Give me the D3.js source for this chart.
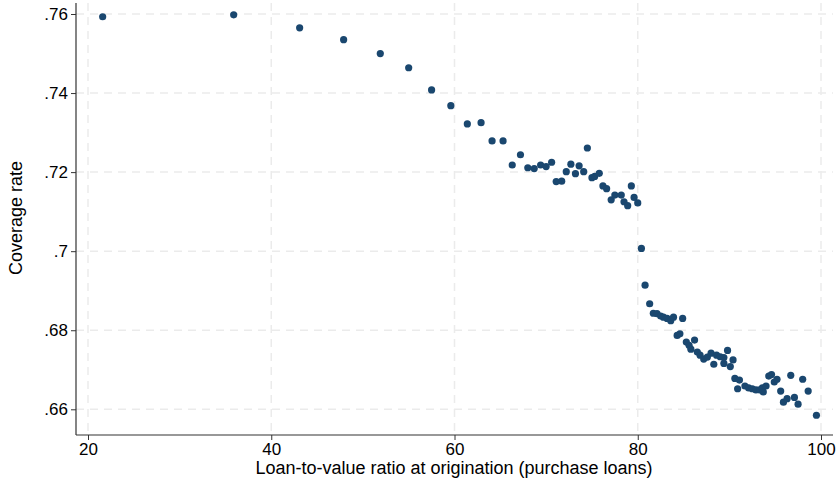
<!DOCTYPE html>
<html>
<head>
<meta charset="utf-8">
<script src="https://cdn.jsdelivr.net/npm/d3@7"></script>
<style>
  body { margin: 0; background: #fff; }
  svg { display: block; font-family: "Liberation Sans", Arial, sans-serif; }
</style>
</head>
<body>
<main></main>
<script>
// Set dimensions
const w = 836;
const h = 481;

// Data: LTV at origination vs coverage rate
const ltv = [
  21.6, 35.9, 43.1, 47.9, 51.9, 55.0, 57.5, 59.6, 61.4, 62.9, 64.1, 65.3,
  66.3, 67.2, 68.0, 68.7, 69.4, 70.0, 70.6, 71.1, 71.7, 72.2, 72.7, 73.2,
  73.6, 74.1, 74.5, 75.0, 75.3, 75.8, 76.2, 76.6, 77.1, 77.5, 78.2, 78.5,
  78.9, 79.3, 79.6, 80.0, 80.4, 80.8, 81.3, 81.7, 82.1, 82.5, 82.8, 83.2,
  83.6, 83.9, 84.3, 84.6, 84.9, 85.3, 85.6, 85.8, 86.2, 86.5, 86.8, 87.2,
  87.6, 88.0, 88.3, 88.6, 89.0, 89.4, 89.4, 89.8, 90.1, 90.4, 90.6, 90.9,
  91.1, 91.7, 92.1, 92.5, 92.9, 93.3, 93.6, 93.7, 94.0, 94.3, 94.6, 94.9,
  95.2, 95.6, 95.9, 96.3, 96.7, 97.1, 97.5, 98.0, 98.6, 99.5
];
const coverage = [
  .7593, .7598, .7565, .7535, .7500, .7464, .7408, .7368, .7322, .7325, .7279, .7279,
  .7218, .7244, .7211, .7209, .7218, .7214, .7225, .7176, .7177, .7201, .7220, .7196,
  .7216, .7201, .7261, .7186, .7189, .7197, .7165, .7158, .7130, .7142, .7142, .7125,
  .7115, .7165, .7136, .7122, .7007, .6914, .6867, .6843, .6842, .6836, .6833, .6830,
  .6824, .6833, .6787, .6791, .6830, .6770, .6762, .6752, .6775, .6745, .6737, .6727,
  .6732, .6742, .6714, .6737, .6733, .6731, .6716, .6749, .6708, .6725, .6678, .6652,
  .6674, .6659, .6654, .6652, .6649, .6649, .6654, .6644, .6659, .6684, .6688, .6669,
  .6676, .6646, .6618, .6627, .6686, .6630, .6613, .6676, .6646, .6585
];
const xTicks = [20, 40, 60, 80, 100];
const yTicks = [0.66, 0.68, 0.7, 0.72, 0.74, 0.76];

const data = ltv.map((x, i) => ({ x: x, y: coverage[i] }));

const svg = d3
  .select("main")
  .append("svg")
  .attr("width", w)
  .attr("height", h);

// Scales
const xScale = d3.scaleLinear().domain([20, 100]).range([88, 821]);
const yScale = d3.scaleLinear().domain([0.66, 0.76]).range([409.3, 14]);

// Grid lines
svg
  .append("g")
  .selectAll("line")
  .data(xTicks)
  .join("line")
  .attr("x1", (d) => xScale(d))
  .attr("x2", (d) => xScale(d))
  .attr("y1", 3)
  .attr("y2", 435)
  .attr("stroke", "#ebebeb")
  .attr("stroke-width", 1.5)
  .attr("stroke-dasharray", "8,6");

svg
  .append("g")
  .selectAll("line")
  .data(yTicks)
  .join("line")
  .attr("x1", 76)
  .attr("x2", 833)
  .attr("y1", (d) => yScale(d))
  .attr("y2", (d) => yScale(d))
  .attr("stroke", "#ebebeb")
  .attr("stroke-width", 1.5)
  .attr("stroke-dasharray", "8,6");

// X axis
const xAxis = d3
  .axisBottom(xScale)
  .tickValues(xTicks)
  .tickSize(5)
  .tickPadding(3)
  .tickSizeOuter(0);
const gx = svg.append("g").attr("transform", "translate(0,435)").call(xAxis);
gx.select(".domain").remove();
gx.selectAll("text").attr("font-size", 17).attr("fill", "#000").attr("font-family", "Liberation Sans, Arial, sans-serif");
gx.selectAll("line").attr("stroke", "#333");

// Y axis
const yAxis = d3
  .axisLeft(yScale)
  .tickValues(yTicks)
  .tickFormat((d) => d3.format(".2f")(d).replace(/^0/, "").replace(/0$/, ""))
  .tickSize(5)
  .tickPadding(3)
  .tickSizeOuter(0);
const gy = svg.append("g").attr("transform", "translate(76,0)").call(yAxis);
gy.select(".domain").remove();
gy.selectAll("text").attr("font-size", 17).attr("fill", "#000").attr("font-family", "Liberation Sans, Arial, sans-serif");
gy.selectAll("line").attr("stroke", "#333");

// Axis lines
svg.append("line").attr("x1", 76).attr("x2", 833).attr("y1", 435).attr("y2", 435).attr("stroke", "#333").attr("stroke-width", 1.2);
svg.append("line").attr("x1", 76).attr("x2", 76).attr("y1", 3).attr("y2", 435).attr("stroke", "#333").attr("stroke-width", 1.2);

// Axis titles
svg
  .append("text")
  .attr("x", 454)
  .attr("y", 474)
  .attr("text-anchor", "middle")
  .attr("font-size", 18)
  .text("Loan-to-value ratio at origination (purchase loans)");

svg
  .append("text")
  .attr("transform", `translate(22, 218) rotate(-90)`)
  .attr("text-anchor", "middle")
  .attr("font-size", 18)
  .text("Coverage rate");

// Points
svg
  .append("g")
  .selectAll("circle")
  .data(data)
  .join("circle")
  .attr("cx", (d) => xScale(d.x))
  .attr("cy", (d) => yScale(d.y))
  .attr("r", 3.6)
  .attr("fill", "#1a476f");
</script>
</body>
</html>
